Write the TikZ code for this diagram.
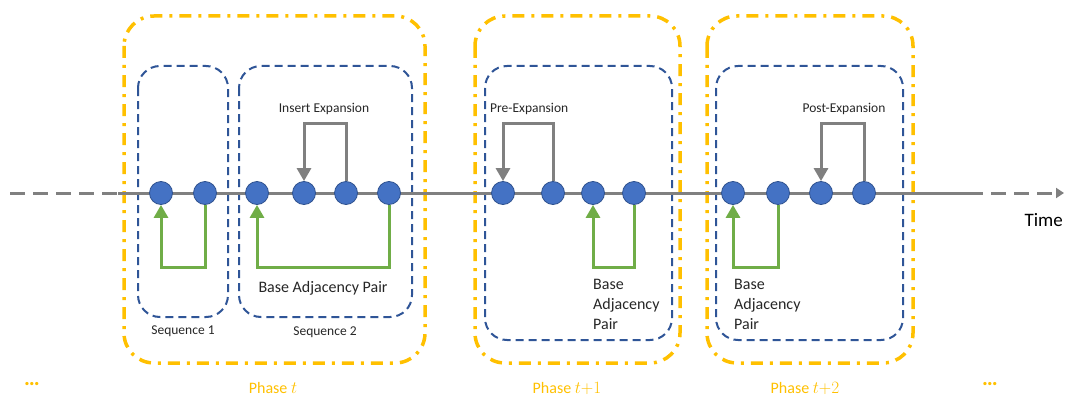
\documentclass[tikz,border=0pt]{standalone}
\usepackage{fontspec}
\setmainfont{Carlito}
\usetikzlibrary{arrows.meta, positioning, calc}
\definecolor{phaseorange}{RGB}{255,192,0}
\definecolor{seqblue}{RGB}{47,85,151}
\definecolor{turnblue}{RGB}{68,114,196}
\definecolor{turnedge}{RGB}{47,82,143}
\definecolor{expgray}{RGB}{128,128,128}
\definecolor{pairgreen}{RGB}{112,173,71}
\definecolor{labelgray}{RGB}{38,38,38}

\begin{document}
\begin{tikzpicture}
	[
	x = 1pt, y = -1pt,
	turnnode/.style = {circle, fill = turnblue, draw = turnedge, line width = 0.8pt, inner sep = 0pt, minimum size = 23pt},
	phasebox/.style = {draw = phaseorange, line width = 3.5pt, rounded corners = 30pt, dash pattern = on 12pt off 7pt on 3pt off 7pt},
	seqbox/.style = {draw = seqblue, line width = 2pt, rounded corners = 22pt, dash pattern = on 8pt off 5pt},
	timeline/.style = {draw = expgray, line width = 3pt},
	exparrow/.style = {
		draw = expgray, line width = 3pt,
		-{Triangle[width=14pt,length=13pt]}
	},
	pairarrow/.style = {
		draw = pairgreen, line width = 3pt,
		-{Triangle[width=14pt,length=13pt]}
	},
	smalllbl/.style = {font = \fontsize{13.5}{16}\selectfont, text = labelgray, inner sep = 0pt},
	biglbl/.style = {font = \fontsize{16}{20}\selectfont, text = labelgray, inner sep = 0pt},
	phaselbl/.style = {font = \fontsize{16}{18}\selectfont, text = phaseorange, inner sep = 0pt}
	]
	\useasboundingbox (0,0) rectangle (1065,396);
	
	% phases and sequences
	\draw[phasebox] (124,16) rectangle (425,363);
	\draw[phasebox] (475,16) rectangle (680,363);
	\draw[phasebox] (707,16) rectangle (913,363);
	\draw[seqbox] (138,66) rectangle (228,317);
	\draw[seqbox] (239,66) rectangle (412,317);
	\draw[seqbox] (485,66) rectangle (672,340);
	\draw[seqbox] (716,66) rectangle (903,340);
	
	% time axis
	\coordinate (tl0) at (10,193);
	\coordinate (tl1) at (118,193);
	\coordinate (tl2) at (968,193);
	\coordinate (tl3) at (1064,193);
	\draw[timeline, dash pattern = on 15pt off 8pt] (tl0) -- (tl1);
	\draw[timeline] (tl1) -- (tl2);
	\draw[timeline, dash pattern = on 15pt off 8pt, -{Triangle[width=10pt,length=8pt]}] (tl2) -- (tl3);
	\node[font = \fontsize{19}{20}\selectfont, inner sep = 0pt, anchor = east] (time) at (1063,220) {Time};
	
	% turns, phase t
	\node[turnnode] (a1) at (161,193) {};
	\node[turnnode] (a2) at (205,193) {};
	\node[turnnode] (a3) at (257,193) {};
	\node[turnnode] (a4) at (304,193) {};
	\node[turnnode] (a5) at (346,193) {};
	\node[turnnode] (a6) at (389,193) {};
	% phase t+1
	\node[turnnode] (b1) at (503,193) {};
	\node[turnnode] (b2) at (553,193) {};
	\node[turnnode] (b3) at (593,193) {};
	\node[turnnode] (b4) at (634,193) {};
	% phase t+2
	\node[turnnode] (c1) at (733,193) {};
	\node[turnnode] (c2) at (778,193) {};
	\node[turnnode] (c3) at (821,193) {};
	\node[turnnode] (c4) at (864,193) {};
	
	% expansions
	\draw[exparrow] (a5.north) -- ++(0,-58) -| (a4.north);
	\draw[exparrow] (b2.north) -- ++(0,-58) -| (b1.north);
	\draw[exparrow] (c4.north) -- ++(0,-58) -| (c3.north);
	\node[smalllbl] (insert) at (324,109) {Insert Expansion};
	\node[smalllbl, anchor = west] (pre) at (490,109) {Pre-Expansion};
	\node[smalllbl] (post) at (844,109) {Post-Expansion};
	
	% base adjacency pairs
	\draw[pairarrow] (a2.south) -- ++(0,63) -| (a1.south);
	\draw[pairarrow] (a6.south) -- ++(0,63) -| (a3.south);
	\draw[pairarrow] (b4.south) -- ++(0,63) -| (b3.south);
	\draw[pairarrow] (c2.south) -- ++(0,63) -| (c1.south);
	\node[biglbl] (bap1) at (323,288) {Base Adjacency Pair};
	\node[biglbl, align = left, anchor = north west] (bap2) at (593,279) {Base\\Adjacency\\Pair};
	\node[biglbl, align = left, anchor = north west] (bap3) at (734,279) {Base\\Adjacency\\Pair};
	
	% labels below
	\node[smalllbl] (seq1) at (183,331) {Sequence 1};
	\node[smalllbl] (seq2) at (325,332) {Sequence 2};
	\node[phaselbl] (pht) at (273,388) {Phase $t$};
	\node[phaselbl] (pht1) at (567,388) {Phase $t{+}1$};
	\node[phaselbl] (pht2) at (805,388) {Phase $t{+}2$};
	\node[phaselbl, font = \fontsize{22}{22}\selectfont\bfseries] (dotsl) at (32,384) {\dots};
	\node[phaselbl, font = \fontsize{22}{22}\selectfont\bfseries] (dotsr) at (990,384) {\dots};
\end{tikzpicture}
\end{document}
